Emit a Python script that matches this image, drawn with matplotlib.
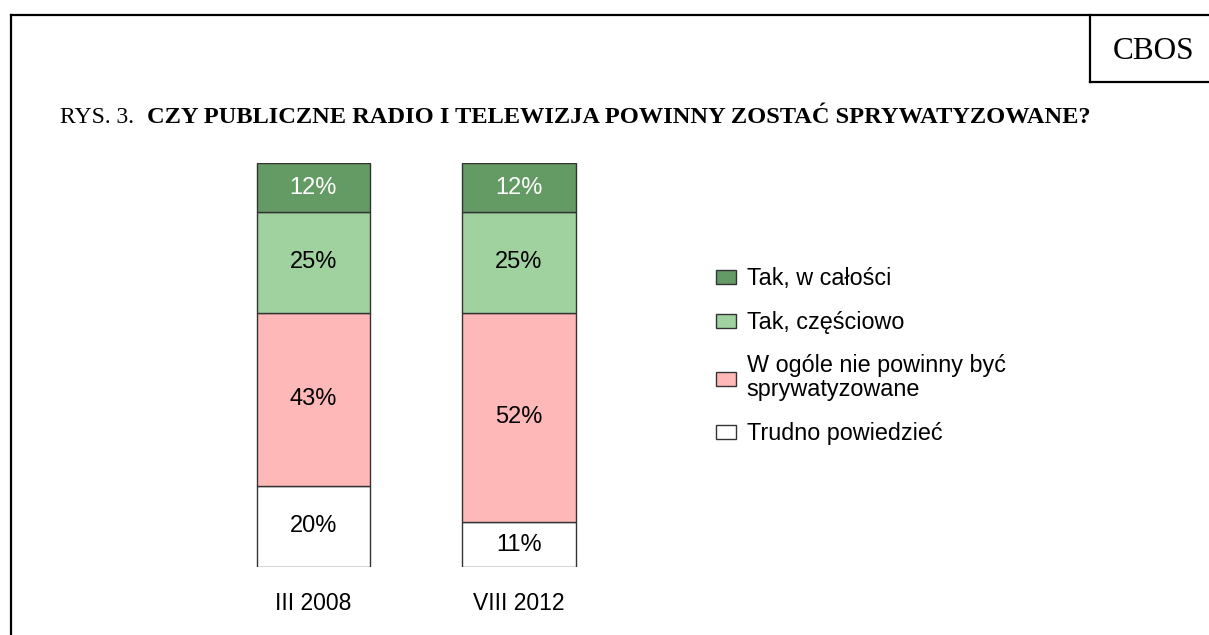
import numpy as np
import matplotlib.pyplot as plt
from matplotlib.lines import Line2D

plt.rcParams['font.family'] = ['Liberation Sans', 'DejaVu Sans']

W, H = 1209, 635

years = ['III 2008', 'VIII 2012']
labels = ['Tak, w całości', 'Tak, częściowo',
          'W ogóle nie powinny być\nsprywatyzowane', 'Trudno powiedzieć']
tak_calosc = [12, 12]
tak_czesc = [25, 25]
nie = [43, 52]
trudno = [20, 11]

colors = ['#649a64', '#a0d2a0', '#ffb8b8', '#ffffff']
text_colors = ['white', 'black', 'black', 'black']

fig = plt.figure(figsize=(W / 100, H / 100), dpi=100)

# frame lines, in pixel coords
def px(x, y):
    return x / W, 1 - y / H

def hline(x0, x1, y):
    fig.add_artist(Line2D([x0 / W, x1 / W], [1 - y / H] * 2, color='black', lw=1.6,
                          transform=fig.transFigure))

def vline(x, y0, y1):
    fig.add_artist(Line2D([x / W] * 2, [1 - y0 / H, 1 - y1 / H], color='black', lw=1.6,
                          transform=fig.transFigure))

hline(11, W + 5, 15)
vline(11, 15, H + 5)
vline(1090, 15, 82)
hline(1090, W + 5, 82)

fig.text(*px(1154, 59), 'CBOS', family='Liberation Serif', fontsize=22.5,
         ha='center', va='baseline')
fig.text(*px(60, 123), 'RYS. 3.', family='Liberation Serif', fontsize=17,
         va='baseline')
fig.text(*px(147, 123), 'CZY PUBLICZNE RADIO I TELEWIZJA POWINNY ZOSTAĆ SPRYWATYZOWANE?',
         family='Liberation Serif', fontweight='bold', fontsize=17.55, va='baseline')

# bars
left = (313.3 - 0.5 * 205.7) / W
ax = fig.add_axes([left, (H - 566.7) / H, 2 * 205.7 / W, 403.4 / H])
x = np.arange(len(years))
series = [tak_calosc, tak_czesc, nie, trudno]
bottom = np.zeros(len(years))
handles = [None] * 4
for i in range(3, -1, -1):
    vals = np.array(series[i])
    bars = ax.bar(x, vals, 0.552, bottom=bottom, color=colors[i],
                  edgecolor='#333333', linewidth=1)
    handles[i] = bars
    for xi, v, b in zip(x, vals, bottom):
        ax.text(xi, b + v / 2, f'{v}%', ha='center', va='center',
                fontsize=17, color=text_colors[i])
    bottom += vals

ax.set_xlim(-0.5, 1.5)
ax.set_ylim(0, 100)
ax.axis('off')
for xi, yr in zip(x, years):
    ax.text(xi, -0.09, yr, transform=ax.get_xaxis_transform(), ha='center',
            va='center', fontsize=16.5)

leg = fig.legend(handles, labels, loc='upper left', bbox_to_anchor=px(707, 258),
                 frameon=False, fontsize=16.8, handlelength=0.85, handleheight=0.55,
                 handletextpad=0.45, labelspacing=0.88, borderaxespad=0)
for t in leg.get_texts():
    t.set_linespacing(1.05)

fig.savefig('out.png', dpi=100)
